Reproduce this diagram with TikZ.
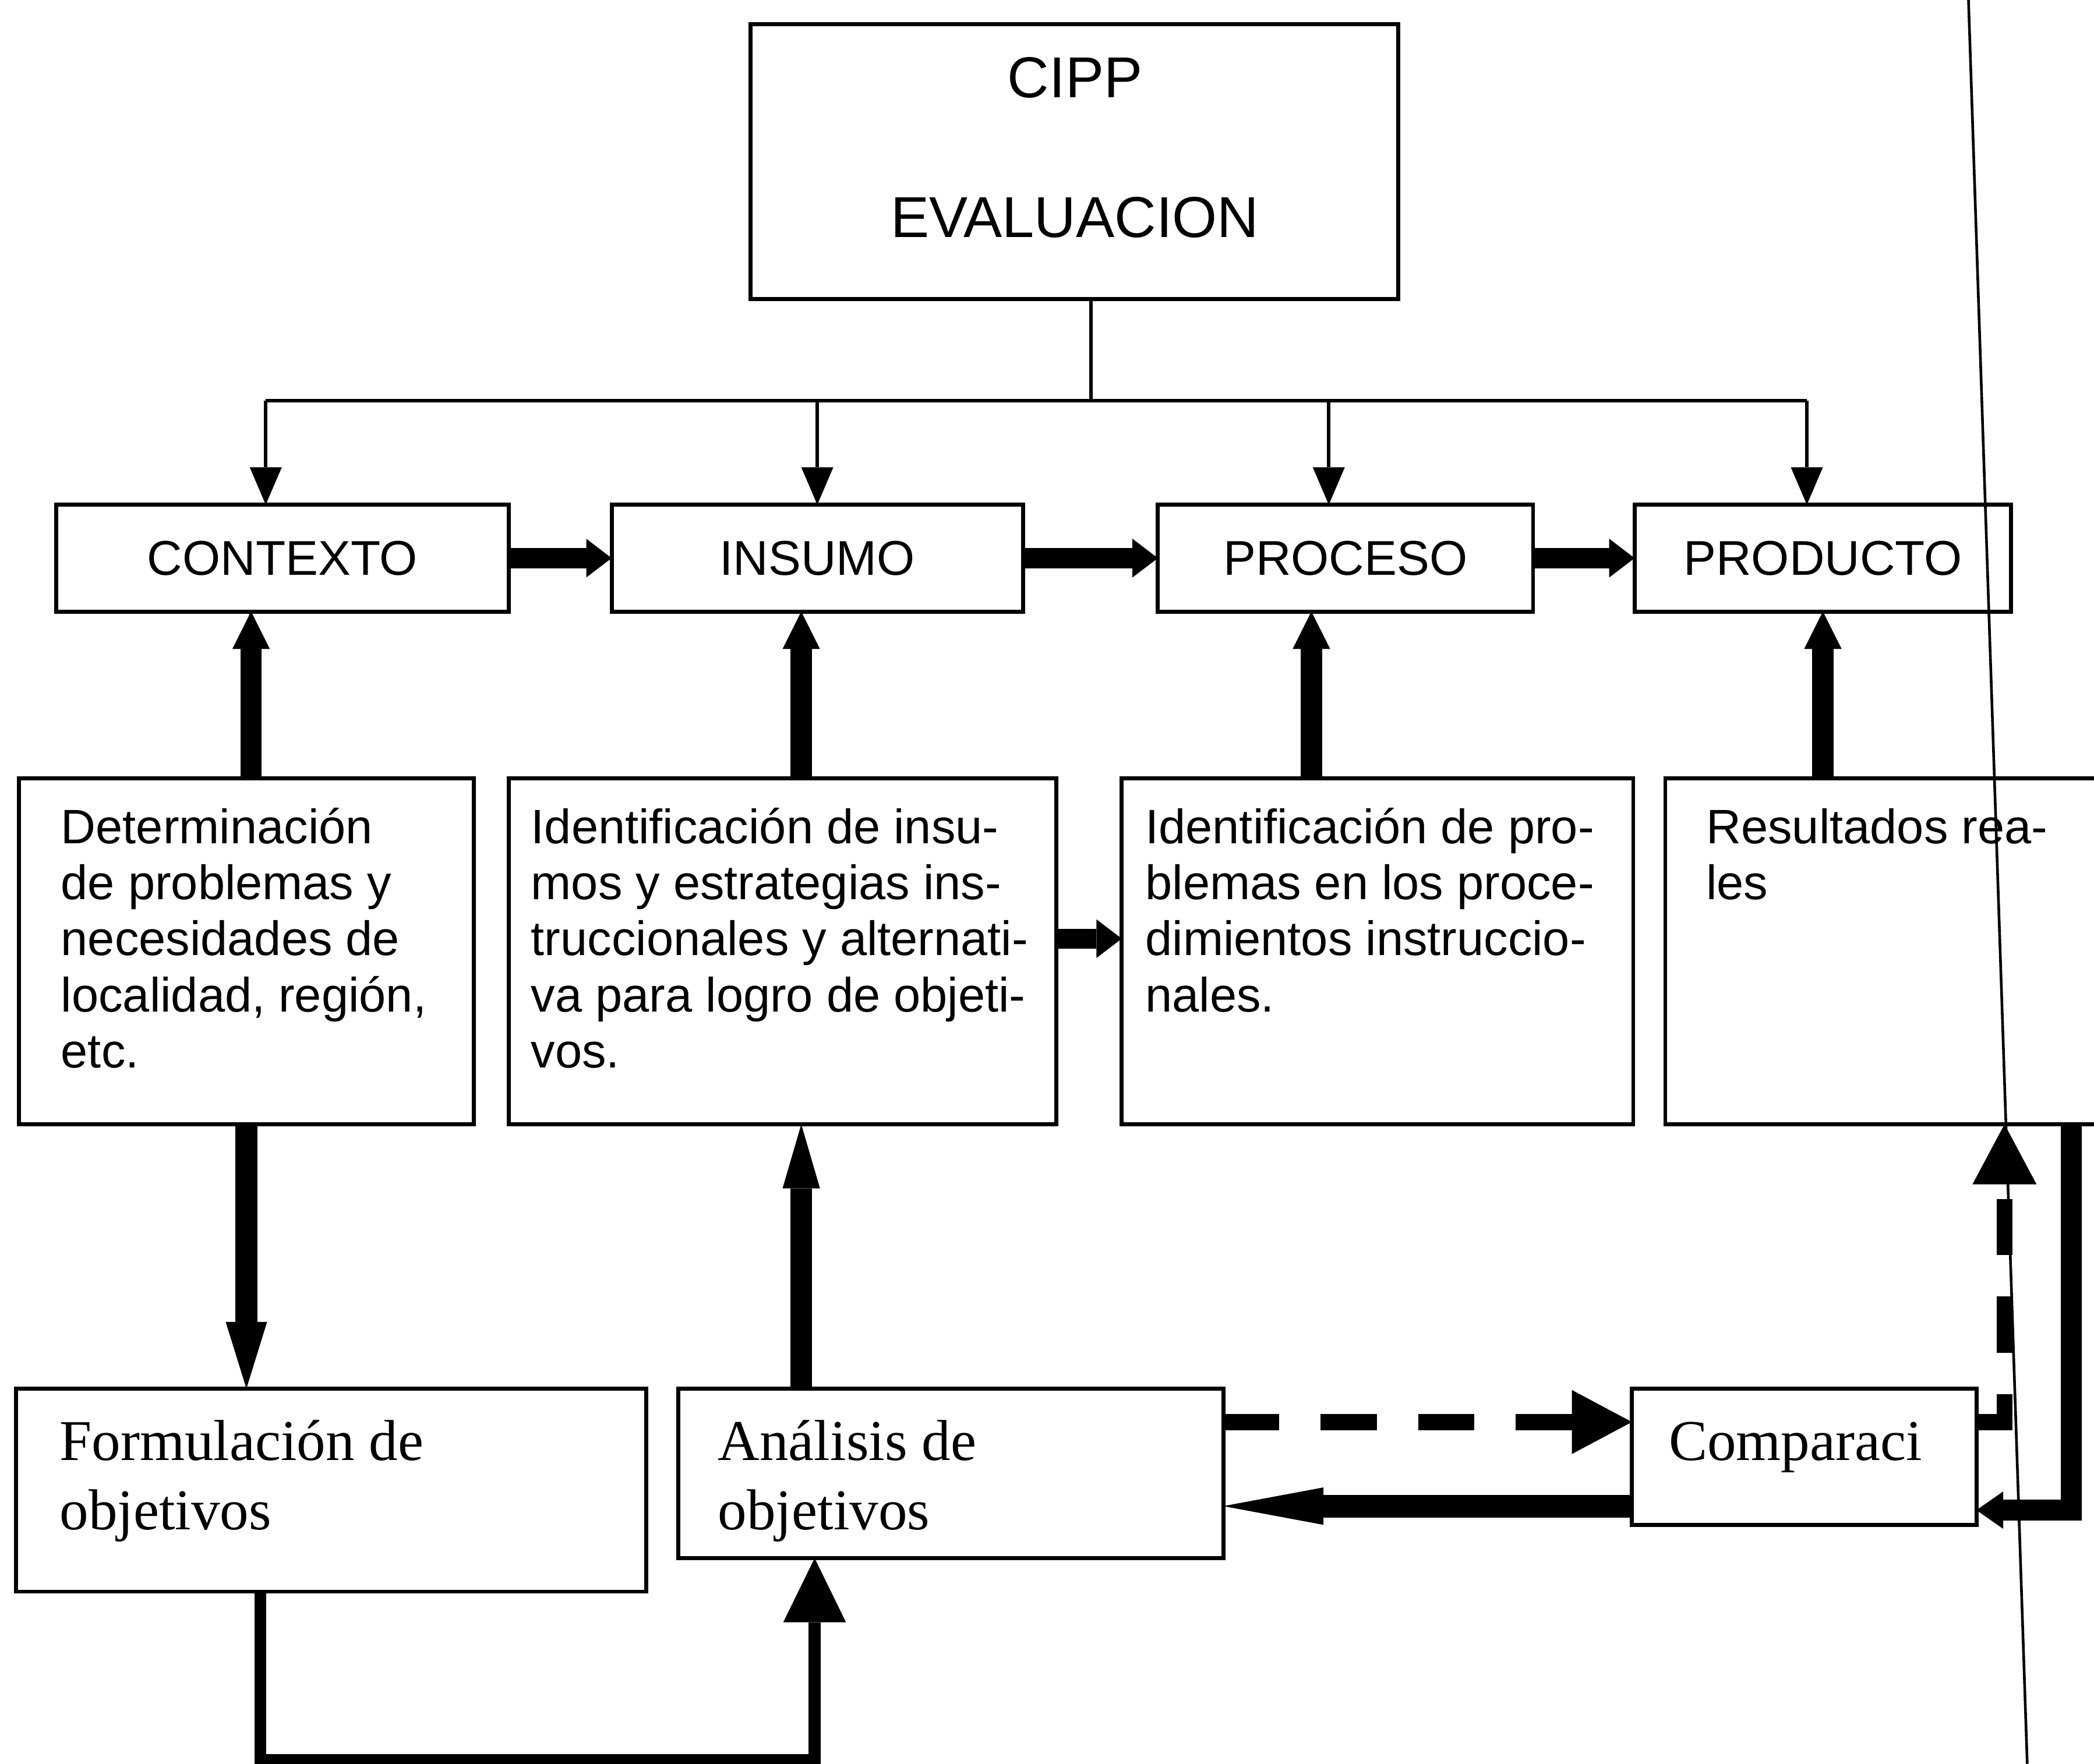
\documentclass[tikz,border=0pt]{standalone}
\usepackage{fontspec}
\setmainfont{Liberation Serif}
\newfontfamily\arialfont{Liberation Sans}
\usetikzlibrary{positioning,arrows.meta}
\tikzset{
	headbox/.style={draw, line width=0.3mm, minimum width=48.5mm, minimum height=20.6mm, inner sep=0pt, outer sep=0pt},
	headtext/.style={inner sep=0pt, font=\arialfont\fontsize{12.3}{14}\selectfont},
	stage/.style={draw, line width=0.3mm, minimum height=8mm, inner sep=0pt, outer sep=0pt,
		font=\arialfont\fontsize{10.4}{12}\selectfont},
	detail/.style={draw, line width=0.3mm, minimum height=25.9mm, inner sep=0pt, outer sep=0pt},
	detailtext/.style={anchor=north west, inner sep=0pt, align=left,
		font=\arialfont\fontsize{10.3}{11.95}\selectfont},
	goal/.style={draw, line width=0.3mm, inner sep=0pt, outer sep=0pt},
	goaltext/.style={anchor=north west, inner sep=0pt, align=left,
		font=\fontsize{12.3}{14.8}\selectfont},
	wire/.style={line width=0.25mm},
	feed/.style={line width=0.25mm, -{Triangle[width=2.4mm,length=2.8mm,line width=0pt]}},
	push/.style={line width=1.5mm, -{Triangle[width=2.9mm,length=1.9mm,line width=0pt]}},
	lift/.style={line width=1.6mm, -{Triangle[width=2.8mm,length=2.8mm,line width=0pt]}},
	drop/.style={line width=1.7mm, -{Triangle[width=3.1mm,length=5mm,line width=0pt]}},
	rise/.style={line width=1.6mm, -{Triangle[width=2.8mm,length=4.8mm,line width=0pt]}},
	loop/.style={line width=0.9mm, -{Triangle[width=4.7mm,length=4.8mm,line width=0pt]}},
	probe/.style={line width=1.2mm, dash pattern=on 4.2mm off 3.1mm, -{Triangle[width=4.8mm,length=4.5mm,line width=0pt]}},
	report/.style={line width=1.7mm, -{Triangle[width=2.8mm,length=7.5mm,line width=0pt]}},
	recall/.style={line width=1.6mm, -{Triangle[width=2.8mm,length=2mm,line width=0pt]}}
}

\begin{document}
\begin{tikzpicture}[x=0.1mm, y=-0.1mm]
	\path[fill=white, use as bounding box] (0,0) rectangle (1568,1321);

	% cabecera
	\node[headbox] (cipp) at (804.5,121) {};
	\node[headtext] (cippa) at (805,58) {CIPP};
	\node[headtext] (cippb) at (805,163) {EVALUACION};
	\coordinate (bus) at (0,300);

	% fila de etapas
	\node[stage, minimum width=33.9mm] (ctx) at (211.5,418) {CONTEXTO};
	\node[stage, minimum width=30.8mm, right=7.7mm of ctx] (ins) {INSUMO};
	\node[stage, minimum width=28.1mm, right=10.1mm of ins] (pro) {PROCESO};
	\node[stage, minimum width=28.2mm, right=7.6mm of pro] (prd) {PRODUCTO};

	% fila de detalles
	\node[detail, minimum width=34.1mm] (det) at (184.5,712.5) {};
	\node[detail, minimum width=41mm, right=2.6mm of det] (idi) {};
	\node[detail, minimum width=38.3mm, right=4.9mm of idi] (idp) {};
	\node[detail, minimum width=37.3mm, right=2.4mm of idp] (res) {};
	\node[detailtext] (dett) at ([shift={(31,18)}]det.north west)
		{\rule{0pt}{3mm}Determinación\\de problemas y\\necesidades de\\localidad, región,\\etc.};
	\node[detailtext] (idit) at ([shift={(16,18)}]idi.north west)
		{\rule{0pt}{3mm}Identificación de insu-\\mos y estrategias ins-\\truccionales y alternati-\\va para logro de objeti-\\vos.};
	\node[detailtext] (idpt) at ([shift={(17,18)}]idp.north west)
		{\rule{0pt}{3mm}Identificación de pro-\\blemas en los proce-\\dimientos instruccio-\\nales.};
	\node[detailtext] (rest) at ([shift={(30,18)}]res.north west)
		{\rule{0pt}{3mm}Resultados rea-\\les};

	% fila de objetivos
	\node[goal, minimum width=47.2mm, minimum height=15.2mm, anchor=north west] (for) at (12,1040) {};
	\node[goal, minimum width=40.8mm, minimum height=12.7mm, right=2.4mm of for.north east, anchor=north west] (ana) {};
	\node[goal, minimum width=25.8mm, minimum height=10.2mm, right=30.6mm of ana.north east, anchor=north west] (com) {};
	\node[goaltext] (fort) at ([shift={(32,13)}]for.north west)
		{\rule{0pt}{4mm}Formulación de\\objetivos};
	\node[goaltext] (anat) at ([shift={(29,13)}]ana.north west)
		{\rule{0pt}{4mm}Análisis de\\objetivos};
	\node[goaltext] (comt) at ([shift={(27,13)}]com.north west)
		{\rule{0pt}{4mm}Comparaci};

	% reparto desde CIPP
	\draw[wire] ([xshift=1.25mm]cipp.south) -- ([xshift=1.25mm]cipp.south |- bus);
	\draw[wire] ([xshift=-1.25mm]ctx.north |- bus) -- ([xshift=-1.2mm]prd.north |- bus);
	\draw[feed] ([xshift=-1.25mm]ctx.north |- bus) -- ([xshift=-1.25mm]ctx.north);
	\draw[feed] (ins.north |- bus) -- (ins.north);
	\draw[feed] ([xshift=-1.25mm]pro.north |- bus) -- ([xshift=-1.25mm]pro.north);
	\draw[feed] ([xshift=-1.2mm]prd.north |- bus) -- ([xshift=-1.2mm]prd.north);

	\draw[push] (ctx) -- (ins);
	\draw[push] (ins) -- (pro);
	\draw[push] (pro) -- (prd);

	\draw[lift] ([xshift=-2.35mm]ctx.south |- det.north) -- ([xshift=-2.35mm]ctx.south);
	\draw[lift] ([xshift=-1.2mm]ins.south |- idi.north) -- ([xshift=-1.2mm]ins.south);
	\draw[lift] ([xshift=-2.55mm]pro.south |- idp.north) -- ([xshift=-2.55mm]pro.south);
	\draw[lift] (prd.south |- res.north) -- (prd.south);
	\draw[push] ([yshift=0.95mm]idi.east) -- ([yshift=0.95mm]idp.west);

	\draw[drop] (det.south) -- (det.south |- for.north);
	\draw[rise] ([xshift=1.4mm]idi.south |- ana.north) -- ([xshift=1.4mm]idi.south);
	\draw[loop] ([xshift=-5.3mm]for.south) -- ++(0,126) -| ([xshift=-10.2mm]ana.south);
	\draw[probe] ([yshift=2.6mm]com.west -| ana.east) -- ([yshift=2.6mm]com.west);
	\draw[report] ([yshift=-3.7mm]com.west) -- ([yshift=-3.7mm]com.west -| ana.east);
	\draw[probe] ([yshift=2.6mm]com.east) -| ([xshift=6.75mm]res.south);
	\draw[recall] ([xshift=11.75mm]res.south) |- ([yshift=-4mm]com.east);

	\draw[line width=0.2mm] (1474,0) -- (1518,1321);
\end{tikzpicture}
\end{document}
